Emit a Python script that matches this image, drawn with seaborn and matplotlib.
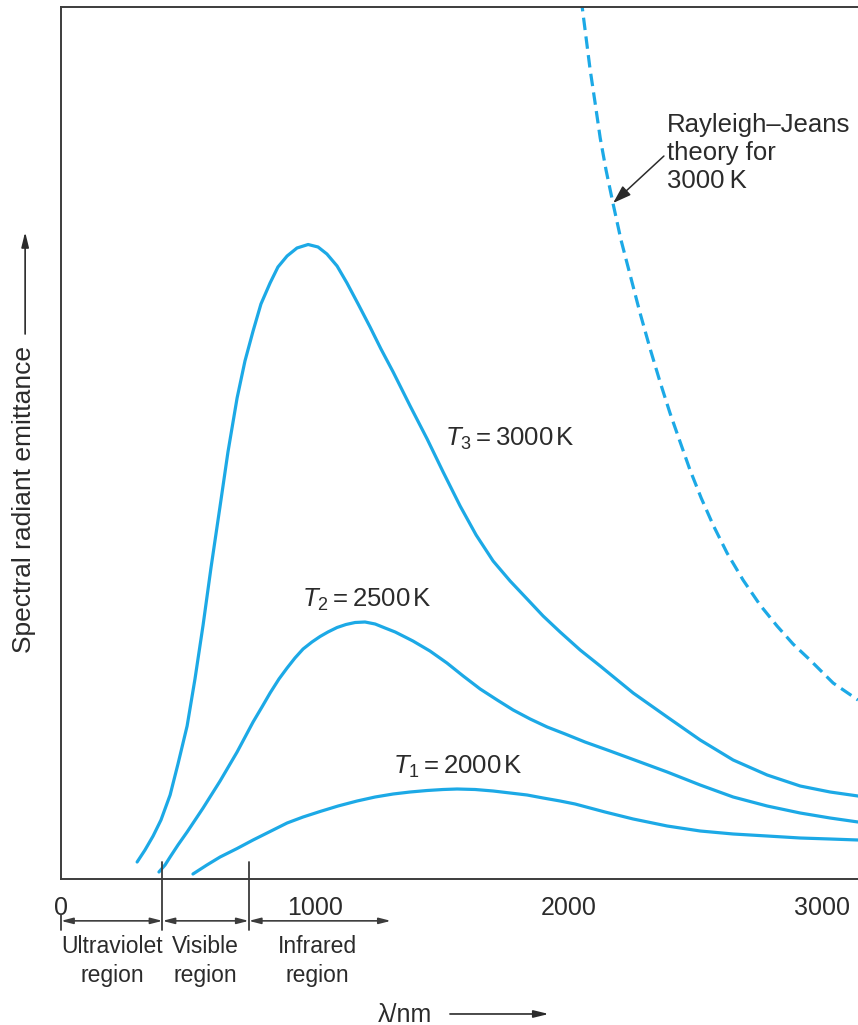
import matplotlib
matplotlib.use("Agg")
import matplotlib.pyplot as plt
import seaborn as sns
import pandas as pd

# ---- data (wavelength in nm, spectral radiant emittance in arbitrary units) ----
wl_t3 = [300, 331, 363, 394, 430, 461, 497, 528, 560, 591, 627, 658, 694, 725, 757, 788,
         824, 855, 891, 930, 974, 1013, 1048, 1088, 1127, 1171, 1218, 1261, 1309, 1376,
         1443, 1506, 1573, 1636, 1703, 1770, 1837, 1900, 1967, 2046, 2125, 2255, 2389,
         2519, 2649, 2783, 2913, 3031, 3141]
em_t3 = [17, 29, 43, 59, 84, 115, 153, 200, 254, 311, 373, 427, 481, 518, 548, 575,
         596, 612, 623, 631, 634.5, 632, 625, 613, 596, 575, 552, 530, 507, 473,
         440, 407, 373, 344, 318, 298, 280, 263, 247, 229, 213, 186, 162,
         139, 119, 104, 93, 87, 83]

wl_t2 = [386, 410, 430, 461, 497, 560, 627, 694, 757, 792, 824, 859, 891, 922, 954, 989,
         1021, 1052, 1088, 1123, 1159, 1198, 1238, 1277, 1317, 1356, 1387, 1454, 1521,
         1585, 1652, 1719, 1782, 1849, 1916, 1987, 2065, 2164, 2282, 2389, 2519, 2649,
         2783, 2913, 3031, 3141]
em_t2 = [7, 14, 22, 34, 47, 71, 98, 127, 157, 172, 186, 200, 211, 221, 230, 237,
         242.5, 247, 251.5, 254.5, 256.5, 257, 255, 251, 247, 242, 238, 228, 216,
         203, 190, 179, 169, 160, 152, 145, 137, 128, 117, 107, 94, 82,
         73, 66, 61, 57]

wl_t1 = [520, 575, 627, 694, 757, 824, 891, 954, 1021, 1092, 1167, 1238, 1309, 1376,
         1443, 1506, 1561, 1632, 1703, 1770, 1837, 1900, 1967, 2026, 2085, 2144, 2255,
         2389, 2519, 2649, 2783, 2913, 3031, 3141]
em_t1 = [5, 14, 22, 30.5, 39, 47.5, 56, 62, 67.5, 73, 78, 82, 85, 87,
         88.5, 89.5, 90, 89.5, 88, 86, 84, 81, 78, 75, 71, 67, 60,
         53, 48, 45, 43, 41, 40, 39]

wl_rj = [2045, 2085, 2105, 2125, 2148, 2176, 2207, 2243, 2282, 2322, 2361, 2400, 2440,
         2479, 2523, 2570, 2625, 2688, 2755, 2822, 2885, 2952, 3043, 3141]
em_rj = [890, 810, 776, 741, 709, 675, 639, 604, 566, 530, 497, 466, 437,
         409, 381, 354, 326, 299, 274, 253, 235, 219, 196, 179]

xticks = [0, 1000, 2000, 3000]
xtick_labels = ["0", "1000", "2000", "3000"]

region_edges = [0, 400, 740, 1300]
region_names = ["Ultraviolet\nregion", "Visible\nregion", "Infrared\nregion"]
region_centers = [201, 570, 1010]

curve_labels = [r"$T_3 = 3000\,\mathrm{K}$", r"$T_2 = 2500\,\mathrm{K}$", r"$T_1 = 2000\,\mathrm{K}$"]
curve_label_pos = [(1514, 440), (950, 279), (1309, 112)]

BLUE = "#1CA9E6"
INK = "#2b2b2b"
SPINE = "#3c3c3c"

sns.set_style("white")
plt.rcParams['font.family'] = ['Liberation Sans', 'DejaVu Sans']
plt.rcParams['mathtext.fontset'] = 'custom'
plt.rcParams['mathtext.rm'] = 'Liberation Sans'
plt.rcParams['mathtext.it'] = 'Liberation Sans:italic'
plt.rcParams['mathtext.bf'] = 'Liberation Sans:bold'

fig = plt.figure(figsize=(8.58, 10.25), dpi=100)
ax = fig.add_axes([61 / 858, 146 / 1025, 797 / 858, 872 / 1025])

for wl, em in [(wl_t3, em_t3), (wl_t2, em_t2), (wl_t1, em_t1)]:
    df = pd.DataFrame({"wl": wl, "em": em})
    sns.lineplot(data=df, x="wl", y="em", ax=ax, color=BLUE, lw=2.3,
                 estimator=None, sort=True, solid_joinstyle="round")

df_rj = pd.DataFrame({"wl": wl_rj, "em": em_rj})
sns.lineplot(data=df_rj, x="wl", y="em", ax=ax, color=BLUE, lw=2.3,
             estimator=None, linestyle=(0, (3.9, 2.0)))

ax.set_xlim(0, 3141)
ax.set_ylim(0, 872)
ax.set_xlabel("")
ax.set_ylabel("")
ax.set_yticks([])
ax.set_xticks(xticks)
ax.set_xticklabels(xtick_labels)
ax.tick_params(axis="x", direction="in", length=10, width=1.3, colors=SPINE,
               labelcolor=INK, labelsize=18, pad=12)

for side in ["left", "bottom", "top"]:
    ax.spines[side].set_color(SPINE)
    ax.spines[side].set_linewidth(1.4)
ax.spines["right"].set_visible(False)

# curve labels
for txt, (x, y) in zip(curve_labels, curve_label_pos):
    ax.text(x, y, txt, ha="left", va="center", fontsize=18.5, color=INK)

# Rayleigh-Jeans annotation
ax.annotate("Rayleigh\u2013Jeans\ntheory for\n3000\u2009K", xy=(2176, 676), xytext=(2389, 726),
            ha="left", va="center", fontsize=18.5, color=INK, linespacing=1.2,
            arrowprops=dict(arrowstyle="-|>,head_length=0.6,head_width=0.2",
                            color=INK, lw=1.1, shrinkA=0, shrinkB=0,
                            relpos=(0.0, 0.5)),
            annotation_clip=False)

# region markers below axis
tr = ax.get_xaxis_transform()
ax.plot([region_edges[0], region_edges[0]], [-0.041, -0.059], transform=tr,
        color=SPINE, lw=1.3, clip_on=False)
for e in region_edges[1:3]:
    ax.plot([e, e], [0.0195, -0.059], transform=tr, color=SPINE, lw=1.3, clip_on=False)
for a, b in zip(region_edges[:-1], region_edges[1:]):
    ax.annotate("", xy=(b, -0.048), xytext=(a, -0.048), xycoords=tr, textcoords=tr,
                arrowprops=dict(arrowstyle="<|-|>,head_length=0.7,head_width=0.18",
                                color=SPINE, lw=1.2, shrinkA=0, shrinkB=0),
                annotation_clip=False)
for name, c in zip(region_names, region_centers):
    ax.text(c, -0.094, name, transform=tr, ha="center", va="center",
            fontsize=16.5, color=INK, linespacing=1.3)

# x-axis label with arrow
ax.text(0.4316, -0.156, "\u03bb/nm", transform=ax.transAxes, ha="center", va="center",
        fontsize=18, color=INK)
ax.annotate("", xy=(0.612, -0.1548), xytext=(0.488, -0.1548), xycoords="axes fraction",
            arrowprops=dict(arrowstyle="-|>,head_length=0.9,head_width=0.22",
                            color=INK, lw=1.2, shrinkA=0, shrinkB=0),
            annotation_clip=False)

# y-axis label with arrow
ax.text(-0.046, 0.435, "Spectral radiant emittance", transform=ax.transAxes,
        rotation=90, ha="center", va="center", fontsize=19, color=INK)
ax.annotate("", xy=(-0.045, 0.742), xytext=(-0.045, 0.625), xycoords="axes fraction",
            arrowprops=dict(arrowstyle="-|>,head_length=0.9,head_width=0.22",
                            color=INK, lw=1.2, shrinkA=0, shrinkB=0),
            annotation_clip=False)

fig.savefig("out.png", dpi=100)
